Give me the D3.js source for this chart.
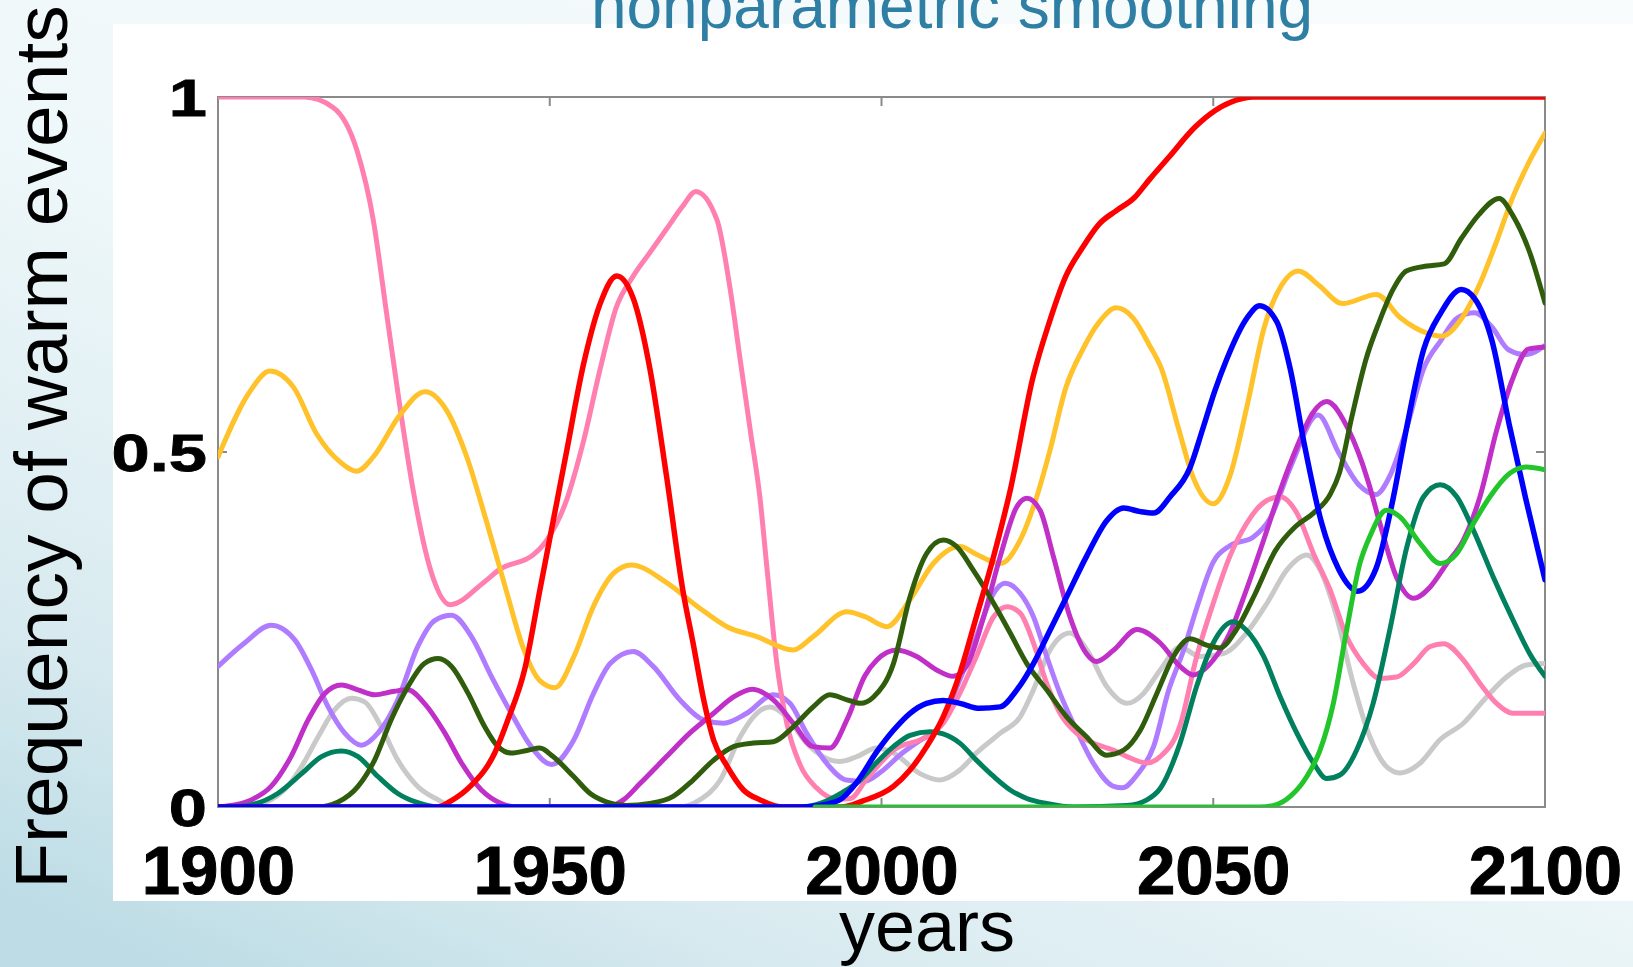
<!DOCTYPE html>
<html>
<head>
<meta charset="utf-8">
<script src="https://cdn.jsdelivr.net/npm/d3@7"></script>
<style>
  html, body { margin: 0; padding: 0; overflow: hidden; }
  svg { display: block; }
</style>
</head>
<body>
<svg id="chart" width="1633" height="967"></svg>
<script>
// ---- data: frequency of warm events per model run, [year, frequency] ----
const xTicks = [1900, 1950, 2000, 2050, 2100];
const yTicks = [0, 0.5, 1];
const yTickLabels = ["0", "0.5", "1"];

const greySeries = [[1900,0],[1905,0.002],[1910,0.024],[1912.6,0.057],[1915.1,0.099],[1917.6,0.137],[1920.1,0.153],[1922.1,0.148],[1924.6,0.113],[1927.1,0.066],[1930.1,0.029],[1933.2,0.01],[1935.5,0],[1969.6,0],[1972.6,0.01],[1975.7,0.038],[1978.7,0.099],[1981.2,0.132],[1983.2,0.141],[1985.7,0.127],[1988.7,0.090],[1991.2,0.071],[1993.7,0.064],[1996.3,0.071],[1999.3,0.083],[2001.8,0.076],[2005.8,0.047],[2008.8,0.038],[2011.8,0.052],[2014.3,0.076],[2017.9,0.104],[2020.9,0.127],[2022.9,0.165],[2025.4,0.221],[2028.4,0.245],[2031,0.221],[2034,0.169],[2037,0.146],[2039.5,0.160],[2042,0.193],[2045,0.225],[2048,0.212],[2051.5,0.216],[2055,0.245],[2058.1,0.287],[2061.1,0.334],[2064.1,0.355],[2066.1,0.334],[2068.6,0.268],[2071.1,0.174],[2073.6,0.099],[2076.1,0.057],[2078.1,0.048],[2081.2,0.062],[2084.2,0.095],[2087.7,0.118],[2091.2,0.155],[2094.2,0.183],[2097.2,0.200],[2100,0.202]];

const lavenderSeries = [[1900,0.198],[1904,0.231],[1908,0.256],[1911.6,0.235],[1914.1,0.193],[1916.6,0.141],[1919.1,0.104],[1921.6,0.087],[1924.1,0.104],[1927.1,0.151],[1930.1,0.226],[1932.7,0.263],[1935.2,0.270],[1938.2,0.240],[1941.2,0.184],[1944.2,0.132],[1947.2,0.085],[1950.3,0.060],[1953.6,0.094],[1956.6,0.160],[1959.1,0.202],[1962.6,0.219],[1965.6,0.198],[1969.6,0.151],[1973.1,0.123],[1976.2,0.118],[1979.7,0.132],[1983.7,0.158],[1986.2,0.146],[1988.7,0.104],[1991.7,0.062],[1994.7,0.038],[1997.3,0.036],[2000,0.05],[2003,0.075],[2006,0.095],[2008.3,0.108],[2011.8,0.179],[2014.3,0.240],[2016.9,0.301],[2018.6,0.315],[2020.9,0.301],[2022.9,0.268],[2024.9,0.212],[2026.9,0.160],[2029.4,0.108],[2031.9,0.062],[2035,0.029],[2036.3,0.027],[2038.5,0.045],[2041,0.085],[2043.3,0.165],[2045.5,0.22],[2047.5,0.28],[2050,0.345],[2052.5,0.368],[2056,0.380],[2058.6,0.407],[2061.7,0.480],[2065.8,0.552],[2068.9,0.499],[2072,0.453],[2074.5,0.440],[2076.6,0.466],[2079.1,0.532],[2081.7,0.617],[2084.3,0.657],[2086.8,0.689],[2089.4,0.696],[2092,0.676],[2094.5,0.644],[2097.1,0.637],[2100,0.650]];

const pinkSeries = [[1900,1],[1913,1],[1917.4,0.985],[1920.9,0.926],[1923.4,0.827],[1925.4,0.696],[1927.4,0.565],[1929.4,0.447],[1932,0.335],[1935,0.285],[1940,0.316],[1942.5,0.335],[1947.5,0.355],[1949.5,0.375],[1952.6,0.434],[1955,0.512],[1957.6,0.617],[1960,0.703],[1962.6,0.748],[1965.1,0.781],[1967.6,0.814],[1970.1,0.847],[1972,0.867],[1975.2,0.827],[1977.2,0.729],[1978.7,0.630],[1980.2,0.532],[1981.7,0.434],[1982.7,0.34],[1984.2,0.204],[1985.7,0.119],[1987.7,0.060],[1990.2,0.027],[1993.3,0.011],[1995.3,0.012],[1997.8,0.04],[2001.8,0.08],[2006.8,0.099],[2009.3,0.118],[2011.8,0.160],[2014.3,0.212],[2016.9,0.268],[2018.9,0.282],[2020.9,0.273],[2022.9,0.231],[2024.9,0.174],[2026.9,0.132],[2029.4,0.104],[2031.9,0.090],[2035,0.080],[2037,0.071],[2040,0.062],[2042,0.071],[2045,0.115],[2047.5,0.212],[2050,0.287],[2052.5,0.353],[2055,0.399],[2057.5,0.428],[2060.1,0.437],[2062.6,0.414],[2065.1,0.357],[2067.6,0.306],[2070.1,0.240],[2072.6,0.202],[2075.1,0.181],[2077.6,0.183],[2080.2,0.202],[2082.7,0.226],[2084.7,0.230],[2087.7,0.207],[2090.2,0.174],[2092.7,0.146],[2095.2,0.132],[2100,0.132]];

const orangeSeries = [[1900,0.493],[1904.8,0.585],[1907.8,0.614],[1911.4,0.591],[1914.9,0.525],[1918.4,0.486],[1920.9,0.473],[1923.4,0.493],[1927.4,0.552],[1931.2,0.585],[1934.5,0.558],[1937.5,0.493],[1940.5,0.401],[1943.5,0.303],[1946,0.224],[1948.5,0.178],[1950.8,0.168],[1953.6,0.211],[1956.6,0.283],[1959.6,0.329],[1962.3,0.341],[1967.6,0.316],[1972.6,0.28],[1976.7,0.254],[1981.2,0.240],[1986.7,0.221],[1989.7,0.240],[1994.8,0.275],[1997.5,0.268],[2000.8,0.254],[2004.3,0.292],[2007.8,0.343],[2011.8,0.367],[2014.5,0.355],[2017.9,0.343],[2020.9,0.376],[2023.4,0.437],[2025.3,0.499],[2027.8,0.591],[2030.3,0.644],[2032.8,0.683],[2035.4,0.703],[2037.9,0.689],[2040.4,0.650],[2042.2,0.617],[2044.8,0.532],[2046.9,0.466],[2050,0.427],[2052.5,0.466],[2055.1,0.565],[2057.7,0.676],[2060.3,0.735],[2062.8,0.755],[2065.9,0.735],[2069.5,0.709],[2074.6,0.722],[2078.2,0.689],[2082.3,0.667],[2084.4,0.663],[2087.5,0.689],[2090.1,0.735],[2092.6,0.794],[2095.2,0.860],[2097.8,0.912],[2100,0.949]];

const magentaSeries = [[1900,0],[1902,0.002],[1905,0.010],[1908,0.029],[1911,0.071],[1913.6,0.123],[1916.1,0.160],[1918.6,0.172],[1921.1,0.165],[1923.6,0.158],[1926.6,0.163],[1928.6,0.165],[1931.1,0.146],[1934.2,0.104],[1936.7,0.062],[1939.7,0.024],[1942.7,0.005],[1945.2,0],[1958.6,0],[1961.1,0.01],[1963.6,0.033],[1967.6,0.071],[1971.1,0.104],[1974.7,0.132],[1977.7,0.155],[1980.5,0.166],[1983.7,0.151],[1986.7,0.118],[1989.7,0.085],[1992.2,0.083],[1994.8,0.123],[1997.5,0.185],[1999.3,0.207],[2002.3,0.221],[2005.3,0.212],[2008.3,0.193],[2010.8,0.184],[2012.8,0.198],[2015.4,0.268],[2017.9,0.353],[2020.4,0.423],[2021.9,0.435],[2023.9,0.418],[2025.9,0.353],[2028.4,0.268],[2030.9,0.216],[2032.4,0.205],[2035,0.221],[2038.5,0.250],[2042,0.231],[2045,0.198],[2047,0.186],[2050,0.207],[2052.5,0.245],[2055,0.306],[2057.6,0.376],[2060.1,0.446],[2062.6,0.507],[2065,0.555],[2067.1,0.571],[2070.4,0.531],[2073.3,0.46],[2075.1,0.40],[2077.6,0.324],[2080.2,0.294],[2082.7,0.310],[2085.2,0.343],[2087.7,0.376],[2090.2,0.437],[2092.7,0.53],[2095,0.60],[2097.5,0.645],[2100,0.648]];

const tealSeries = [[1900,0],[1903,0.001],[1905,0.003],[1909,0.019],[1912.6,0.047],[1915.6,0.071],[1918.6,0.079],[1921.1,0.071],[1924.1,0.043],[1927.1,0.019],[1930.1,0.006],[1933,0],[1988,0],[1991,0.006],[1994,0.02],[1996.8,0.038],[1999.3,0.063],[2001.8,0.085],[2004.3,0.101],[2007.3,0.106],[2009.3,0.103],[2011.8,0.090],[2014.3,0.066],[2016.9,0.043],[2019.4,0.024],[2021.9,0.012],[2024.9,0.005],[2029,0],[2037,0.002],[2040,0.01],[2042,0.026],[2045,0.09],[2047.5,0.17],[2050,0.231],[2053,0.261],[2055,0.249],[2057.6,0.212],[2060.1,0.155],[2062.6,0.104],[2065.1,0.062],[2067.1,0.040],[2069.1,0.045],[2071.6,0.080],[2074.1,0.146],[2076.6,0.249],[2079.2,0.367],[2081.7,0.437],[2084.2,0.454],[2086.7,0.437],[2089.2,0.390],[2092.2,0.324],[2095.2,0.263],[2097.7,0.216],[2100,0.184]];

const darkGreenSeries = [[1900,0],[1915,0],[1918.1,0.007],[1921.1,0.029],[1923.6,0.066],[1926.1,0.123],[1928.6,0.169],[1931.1,0.202],[1933.2,0.209],[1935.2,0.198],[1937.7,0.160],[1940.2,0.113],[1942.2,0.085],[1944.2,0.076],[1946.7,0.080],[1948.5,0.083],[1950.5,0.071],[1953.6,0.043],[1956.1,0.019],[1958.6,0.007],[1961.5,0.002],[1965.1,0.005],[1968.6,0.015],[1971.6,0.038],[1974.7,0.066],[1977.7,0.085],[1980.7,0.090],[1983.7,0.092],[1986.7,0.113],[1989.7,0.141],[1992.2,0.158],[1994.8,0.151],[1996.8,0.146],[1998.8,0.155],[2001.8,0.202],[2004.3,0.296],[2006.8,0.357],[2009.3,0.376],[2011.3,0.367],[2013.8,0.334],[2016.9,0.287],[2019.4,0.245],[2021.9,0.202],[2024.9,0.165],[2027.9,0.127],[2030.9,0.099],[2033.9,0.073],[2036.5,0.080],[2039,0.108],[2041.5,0.160],[2044,0.212],[2046.5,0.237],[2049,0.228],[2051,0.224],[2053.5,0.250],[2056.3,0.300],[2059.3,0.36],[2062.4,0.395],[2065.1,0.414],[2067.6,0.44],[2069,0.47],[2070.9,0.55],[2073,0.630],[2075,0.683],[2077.1,0.729],[2079.1,0.755],[2082.2,0.762],[2084.8,0.765],[2087.4,0.801],[2090,0.834],[2093.1,0.857],[2095.1,0.834],[2097.7,0.781],[2100,0.71]];

const redSeries = [[1900,0],[1933,0],[1935,0.008],[1938,0.029],[1941.7,0.076],[1943.7,0.123],[1946.2,0.193],[1948.5,0.305],[1950.5,0.402],[1952.5,0.499],[1955.1,0.624],[1957.6,0.709],[1960.1,0.748],[1962.6,0.716],[1965.1,0.617],[1967.6,0.466],[1970.1,0.303],[1971.6,0.231],[1973.2,0.151],[1974.7,0.094],[1976.7,0.058],[1979.2,0.024],[1981.7,0.01],[1985,0],[1994,0],[1997,0.008],[2001.8,0.029],[2004.3,0.052],[2006.8,0.085],[2009.3,0.127],[2011.8,0.188],[2014.3,0.268],[2016.9,0.353],[2019.4,0.446],[2022.8,0.604],[2025.3,0.683],[2027.8,0.748],[2030.3,0.788],[2032.8,0.821],[2035.4,0.840],[2038.1,0.858],[2040.4,0.884],[2043.2,0.914],[2047.3,0.958],[2050.3,0.981],[2054.5,0.998],[2056,1],[2100,1]];

const blueSeries = [[1900,0],[1988,0],[1990.5,0.002],[1993.7,0.01],[1996.3,0.035],[1999.3,0.078],[2001.8,0.108],[2004.3,0.132],[2006.8,0.146],[2009.3,0.150],[2011.8,0.146],[2014.8,0.139],[2017.9,0.141],[2020.4,0.165],[2022.9,0.202],[2025.4,0.249],[2027.9,0.296],[2030.9,0.353],[2034,0.404],[2036.5,0.421],[2039,0.416],[2041,0.414],[2043.5,0.437],[2046.5,0.478],[2048.4,0.532],[2050.2,0.585],[2052,0.630],[2055.1,0.689],[2057,0.706],[2059.6,0.683],[2061.6,0.617],[2063.7,0.512],[2066.3,0.401],[2068.9,0.335],[2071.8,0.304],[2074.5,0.335],[2077.1,0.434],[2079.1,0.532],[2081.7,0.644],[2084.3,0.696],[2087.4,0.729],[2089.4,0.716],[2092,0.657],[2094.6,0.539],[2097.1,0.434],[2100,0.32]];

const greenSeries = [[1990,0],[2057,0],[2059,0.002],[2061.6,0.015],[2064.1,0.043],[2066.1,0.080],[2068.1,0.146],[2070.1,0.249],[2072.1,0.343],[2073.6,0.381],[2076.1,0.418],[2078.1,0.409],[2081.2,0.371],[2084.2,0.343],[2086.7,0.357],[2089.2,0.399],[2091.7,0.437],[2094.7,0.470],[2097.2,0.479],[2100,0.475]];

// drawing order, back to front
const seriesNames = ["grey", "lavender", "pink", "orange", "magenta", "teal", "darkGreen", "red", "blue", "green"];
const seriesValues = [greySeries, lavenderSeries, pinkSeries, orangeSeries, magentaSeries, tealSeries, darkGreenSeries, redSeries, blueSeries, greenSeries];

// ---- styles ----
const lineColors = {
  grey: "#c9c9c9", lavender: "#b07cff", pink: "#ff80b0", orange: "#ffc22a",
  magenta: "#c030c8", teal: "#00805e", darkGreen: "#2f5d0c", red: "#ff0000",
  blue: "#0000ff", green: "#22c52a"
};
const lineWidths = { blue: 5.5, red: 5.5 };

const W = 1633, H = 967;
const plot = { left: 218, right: 1545, top: 97, bottom: 807 };

const svg = d3.select("#chart");
const defs = svg.append("defs");

// page background
const bg = defs.append("linearGradient").attr("id", "bgGrad")
  .attr("x1", "0.85").attr("y1", "0").attr("x2", "0.1").attr("y2", "1");
bg.append("stop").attr("offset", "0").attr("stop-color", "#f8fcfd");
bg.append("stop").attr("offset", "0.5").attr("stop-color", "#eef7f9");
bg.append("stop").attr("offset", "0.8").attr("stop-color", "#d9ebf0");
bg.append("stop").attr("offset", "1").attr("stop-color", "#bddce5");
svg.append("rect").attr("width", W).attr("height", H).attr("fill", "url(#bgGrad)");

// white figure panel
svg.append("rect").attr("x", 113).attr("y", 24).attr("width", W - 113).attr("height", 901 - 24)
  .attr("fill", "#ffffff");

defs.append("clipPath").attr("id", "plotClip").append("rect")
  .attr("x", plot.left).attr("y", plot.top)
  .attr("width", plot.right - plot.left).attr("height", plot.bottom - plot.top);

const x = d3.scaleLinear().domain([1900, 2100]).range([plot.left, plot.right]);
const y = d3.scaleLinear().domain([0, 1]).range([plot.bottom, plot.top]);

// frame and inward ticks
const frameColor = "#8a8a8a";
svg.append("rect").attr("x", plot.left).attr("y", plot.top)
  .attr("width", plot.right - plot.left).attr("height", plot.bottom - plot.top)
  .attr("fill", "none").attr("stroke", frameColor).attr("stroke-width", 2);

const tickLen = 9;
const innerX = xTicks.filter(t => t > 1900 && t < 2100);
svg.append("g").selectAll("line").data(innerX).join("line")
  .attr("x1", d => x(d)).attr("x2", d => x(d))
  .attr("y1", plot.bottom).attr("y2", plot.bottom - tickLen)
  .attr("stroke", frameColor).attr("stroke-width", 2);
svg.append("g").selectAll("line").data(innerX).join("line")
  .attr("x1", d => x(d)).attr("x2", d => x(d))
  .attr("y1", plot.top).attr("y2", plot.top + tickLen)
  .attr("stroke", frameColor).attr("stroke-width", 2);
const innerY = yTicks.filter(t => t > 0 && t < 1);
svg.append("g").selectAll("line").data(innerY).join("line")
  .attr("x1", plot.left).attr("x2", plot.left + tickLen)
  .attr("y1", d => y(d)).attr("y2", d => y(d))
  .attr("stroke", frameColor).attr("stroke-width", 2);
svg.append("g").selectAll("line").data(innerY).join("line")
  .attr("x1", plot.right).attr("x2", plot.right - tickLen)
  .attr("y1", d => y(d)).attr("y2", d => y(d))
  .attr("stroke", frameColor).attr("stroke-width", 2);

// lines
const line = d3.line()
  .x(d => x(d[0]))
  .y(d => y(d[1]))
  .curve(d3.curveMonotoneX);

svg.append("g").attr("clip-path", "url(#plotClip)")
  .selectAll("path").data(seriesValues).join("path")
  .attr("d", d => line(d))
  .attr("fill", "none")
  .attr("stroke", (d, i) => lineColors[seriesNames[i]])
  .attr("stroke-width", (d, i) => lineWidths[seriesNames[i]] || 5)
  .attr("stroke-linejoin", "round")
  .attr("stroke-linecap", "round");

// tick labels
const fontFamily = "'Liberation Sans', Arial, Helvetica, sans-serif";
const xAxis = d3.axisBottom(x).tickValues(xTicks).tickFormat(d3.format("d")).tickSize(0).tickPadding(0);
const xg = svg.append("g").attr("transform", `translate(0, 894)`).call(xAxis);
xg.select(".domain").remove();
xg.selectAll("text")
  .attr("dy", 0).attr("y", 0)
  .attr("font-family", fontFamily).attr("font-weight", "bold")
  .attr("font-size", 69).attr("fill", "#000")
  .attr("stroke", "#000").attr("stroke-width", 1);

svg.append("g").selectAll("text").data(yTicks).join("text")
  .attr("transform", d => `translate(207, ${y(d) + 19}) scale(1.32, 1)`)
  .attr("text-anchor", "end")
  .attr("font-family", fontFamily).attr("font-weight", "bold")
  .attr("font-size", 52).attr("fill", "#000")
  .attr("stroke", "#000").attr("stroke-width", 0.8)
  .text((d, i) => yTickLabels[i]);

// axis titles
svg.append("text")
  .attr("transform", `translate(67, 447) rotate(-90)`)
  .attr("text-anchor", "middle")
  .attr("font-family", fontFamily).attr("font-size", 75).attr("fill", "#000")
  .text("Frequency of warm events");

svg.append("text")
  .attr("x", 927).attr("y", 951)
  .attr("text-anchor", "middle")
  .attr("font-family", fontFamily).attr("font-size", 72).attr("fill", "#000")
  .text("years");

svg.append("text")
  .attr("x", 952).attr("y", 28)
  .attr("text-anchor", "middle")
  .attr("font-family", fontFamily).attr("font-size", 64).attr("fill", "#2f7ea4")
  .text("nonparametric smoothing");
</script>
</body>
</html>
